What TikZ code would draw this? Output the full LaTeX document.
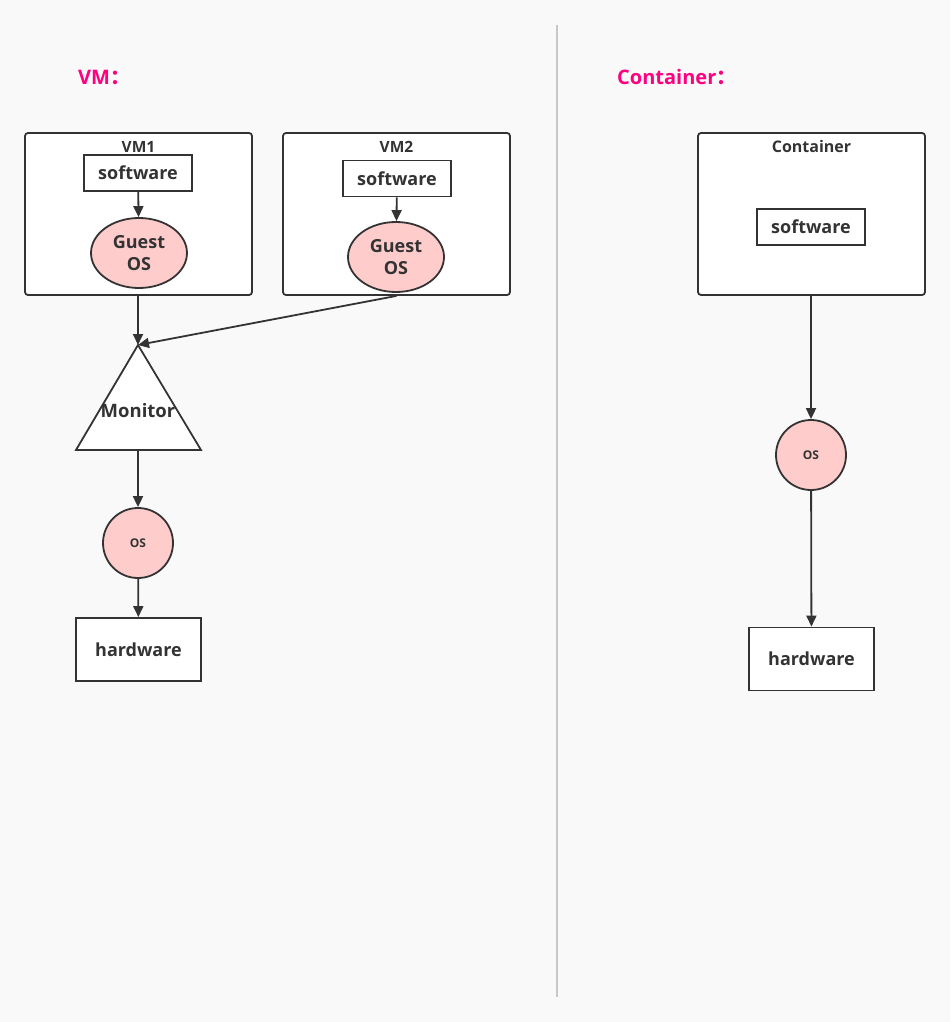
\documentclass[tikz,border=0pt]{standalone}
\usepackage{fontspec}
\setmainfont{Open Sans}
\newfontfamily\cjk{Noto Sans CJK SC}
\usetikzlibrary{arrows.meta,shapes.geometric}
\definecolor{bg}{HTML}{F9F9F9}
\definecolor{ink}{HTML}{333333}
\definecolor{pinkt}{HTML}{FF0080}
\definecolor{osfill}{HTML}{FFCCCC}
\definecolor{divider}{HTML}{C8C8C8}
\tikzset{
  base/.style={draw=ink, line width=1.8pt, text=ink, font=\bfseries\fontsize{18}{20}\selectfont, inner sep=0pt},
  frame/.style={base, fill=white, rounded corners=3pt, minimum width=227pt, minimum height=162pt},
  swbox/.style={base, fill=white, minimum width=108pt, minimum height=36pt},
  hwbox/.style={base, fill=white, minimum width=125pt, minimum height=63pt},
  guest/.style={base, ellipse, fill=osfill, minimum width=96pt, minimum height=70pt, align=center, font=\bfseries\fontsize{18}{22}\selectfont},
  oscirc/.style={base, circle, fill=osfill, minimum size=70pt, font=\bfseries\fontsize{12}{14}\selectfont},
  frlabel/.style={text=ink, font=\bfseries\fontsize{15.5}{17}\selectfont, inner sep=0pt},
  title/.style={text=pinkt, font=\bfseries\fontsize{20}{22}\selectfont, inner sep=0pt, anchor=west},
  conn/.style={draw=ink, line width=1.8pt, -{Triangle[length=11pt,width=10pt]}},
}
\begin{document}
\begin{tikzpicture}[x=1pt,y=-1pt]
\fill[bg] (0,0) rectangle (950,1022);
\useasboundingbox (0,0) rectangle (950,1022);
\draw[divider, line width=1.3pt] (557,25) -- (557,997);

\node[title] (tvm) at (78,77) {VM{\cjk\bfseries ：}};
\node[title] (tct) at (617,77) {Container{\cjk\bfseries ：}};

% VM1
\node[frame] (vm1) at (138.5,214) {};
\node[frlabel] (vm1l) at (138.5,147) {VM1};
\node[swbox] (sw1) at (138,173) {software};
\node[guest] (g1) at (139,253) {Guest\\OS};
\draw[conn] (sw1) -- (g1);

% VM2
\node[frame] (vm2) at (396.5,214) {};
\node[frlabel] (vm2l) at (396.5,147) {VM2};
\node[swbox] (sw2) at (397,178.5) {software};
\node[guest] (g2) at (396,257) {Guest\\OS};
\draw[conn] (sw2) -- (g2);

% Monitor
\coordinate (mtop) at (138,345);
\coordinate (mbl) at (76,450);
\coordinate (mbr) at (201,450);
\coordinate (mbot) at (138,450);
\draw[base, fill=white, line join=miter] (mtop) -- (mbr) -- (mbl) -- cycle;
\node[text=ink, font=\bfseries\fontsize{18.5}{20}\selectfont, inner sep=0pt] (mon) at (138,411) {Monitor};
\draw[conn] (vm1.south -| mtop) -- (mtop);
\draw[conn] (vm2.south) -- (mtop);

\node[oscirc] (os1) at (138,543) {OS};
\draw[conn] (mbot) -- (os1);
\node[hwbox] (hw1) at (138.5,649.5) {hardware};
\draw[conn] (os1) -- (hw1);

% Container
\node[frame] (ct) at (811.5,214) {};
\node[frlabel, font=\bfseries\fontsize{16}{18}\selectfont] (ctl) at (811.5,147) {Container};
\node[swbox] (sw3) at (811,227) {software};
\node[oscirc] (os2) at (811,455) {OS};
\draw[conn] (ct.south -| os2) -- (os2);
\node[hwbox] (hw2) at (811.5,659) {hardware};
\draw[conn] (os2) -- (hw2);
\end{tikzpicture}
\end{document}
